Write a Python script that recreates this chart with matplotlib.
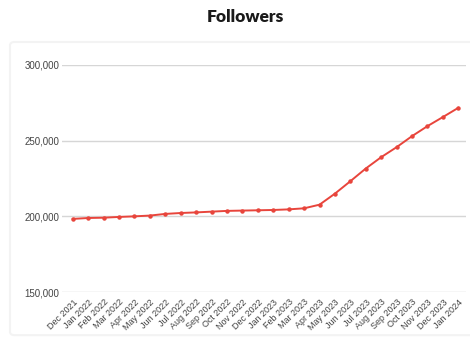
import matplotlib
matplotlib.use("Agg")
import matplotlib.pyplot as plt
from matplotlib.patches import FancyBboxPatch
from matplotlib.ticker import FuncFormatter

months = ["Dec 2021", "Jan 2022", "Feb 2022", "Mar 2022", "Apr 2022", "May 2022",
          "Jun 2022", "Jul 2022", "Aug 2022", "Sep 2022", "Oct 2022", "Nov 2022",
          "Dec 2022", "Jan 2023", "Feb 2023", "Mar 2023", "Apr 2023", "May 2023",
          "Jun 2023", "Jul 2023", "Aug 2023", "Sep 2023", "Oct 2023", "Nov 2023",
          "Dec 2023", "Jan 2024"]
followers = [198300, 198900, 199100, 199600, 200000, 200500,
             201600, 202200, 202600, 203100, 203600, 203800,
             204000, 204200, 204600, 205300, 207700, 215000,
             223200, 231600, 239100, 245700, 253000, 259600,
             265600, 271700]
y_ticks = [150000, 200000, 250000, 300000]


def main():
    fig = plt.figure(figsize=(4.7, 3.42), dpi=100)

    # faint card frame behind the chart
    card = FancyBboxPatch((10 / 470, 0.02), 1.0, 1 - 42 / 342 - 0.02,
                          boxstyle="round,pad=0,rounding_size=0.01",
                          transform=fig.transFigure, facecolor="white",
                          edgecolor="#f3f3f3", linewidth=1.5, zorder=-5)
    fig.patches.append(card)

    fig.text(0.523, 0.95, "Followers", ha="center", va="center",
             fontsize=12.5, fontweight="heavy", family="Lato", color="#1a1a1a")

    ax = fig.add_axes([62 / 470, 1 - 292 / 342, (466 - 62) / 470, (292 - 65) / 342])
    ax.set_zorder(2)
    ax.patch.set_alpha(0)

    x = list(range(len(months)))
    ax.plot(x, followers, color="#e8453c", linewidth=1.4, marker="o",
            markersize=2.2, zorder=3)

    ax.set_ylim(150000, 300000)
    ax.set_xlim(-0.7, 25.5)
    ax.set_yticks(y_ticks)
    ax.yaxis.set_major_formatter(FuncFormatter(lambda v, p: f"{int(v):,}"))
    ax.grid(axis="y", color="#d6d6d6", linewidth=1)
    ax.set_axisbelow(True)

    ax.set_xticks(x)
    ax.set_xticklabels(months, rotation=45, ha="right", rotation_mode="anchor",
                       fontsize=6.5, color="#444444", family="Liberation Sans")
    for lbl in ax.get_yticklabels():
        lbl.set_fontsize(7)
        lbl.set_color("#444444")
        lbl.set_family("Liberation Sans")
    ax.tick_params(axis="both", length=0)
    ax.tick_params(axis="y", pad=2)
    ax.tick_params(axis="x", pad=4)
    for s in ax.spines.values():
        s.set_visible(False)

    fig.savefig("out.png", dpi=100)


if __name__ == "__main__":
    main()
